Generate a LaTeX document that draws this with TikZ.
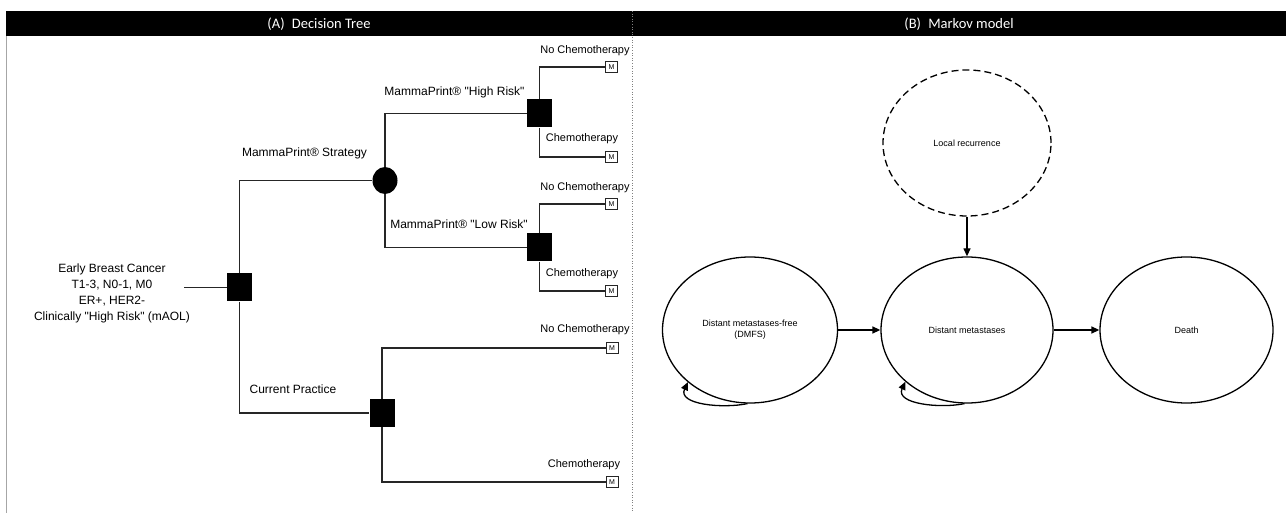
\documentclass[tikz,border=0pt]{standalone}
\usepackage{fontspec}
\setmainfont{Liberation Sans}[Ligatures=TeXOff]
\newfontfamily\hdrfont{Carlito}
\usetikzlibrary{arrows.meta,shapes.geometric}
\begin{document}
\begin{tikzpicture}[x=1pt,y=-1pt,
  treeline/.style={line width=1.1pt, black!85},
  chance/.style={ellipse, fill=black, minimum width=25pt, minimum height=27pt, inner sep=0pt},
  decision/.style={rectangle, fill=black, minimum width=25pt, minimum height=28pt, inner sep=0pt},
  mbox/.style={rectangle, draw=black!85, line width=0.8pt, fill=white, minimum width=12pt, minimum height=11pt, inner sep=0pt, font=\fontsize{7}{7}\selectfont},
  lbl/.style={font=\fontsize{12}{14}\selectfont, inner sep=0pt},
  endlbl/.style={font=\fontsize{11}{13}\selectfont, inner sep=0pt},
  mstate/.style={ellipse, draw, line width=1.3pt, minimum height=146pt, inner sep=0pt, font=\fontsize{9}{11}\selectfont, align=center},
  trans/.style={line width=1.3pt, -{Triangle[length=8pt,width=7pt]}},
  hdr/.style={text=white, font=\hdrfont\fontsize{14.5}{16}\selectfont, inner sep=0pt},
]
\useasboundingbox (0,0) rectangle (1286,513);
% header
\fill[black] (6,11) rectangle (1286,36);
\node[hdr] (hA) at (319,24) {(A)\hspace{0.5em}Decision Tree};
\node[hdr] (hB) at (959,24) {(B)\hspace{0.5em}Markov model};
\draw[gray!70, line width=0.6pt] (6.5,36) -- (6.5,513);
\draw[gray, dotted, line width=0.6pt] (632,11) -- (632,513);

% decision tree
\node[lbl, align=center, font=\fontsize{12}{16}\selectfont] (root) at (112,293)
  {Early Breast Cancer\\T1-3, N0-1, M0\\ER+, HER2-\\Clinically "High Risk" (mAOL)};
\coordinate (rootend) at (184,287.5);
\node[decision] (s0) at (239.5,287.5) {};
\node[chance] (c1) at (385,180.5) {};
\node[decision] (s1) at (539.5,113.5) {};
\node[decision] (s2) at (539.5,247.5) {};
\node[decision] (s3) at (382,413) {};

\node[mbox] (m1) at (611.5,67) {M};
\node[mbox] (m2) at (611.5,157) {M};
\node[mbox] (m3) at (611.5,204) {M};
\node[mbox] (m4) at (611.5,291) {M};
\node[mbox] (m5) at (612,348) {M};
\node[mbox] (m6) at (612,482) {M};

\draw[treeline] (rootend) -- (s0);
\draw[treeline] (s0) |- (c1);
\draw[treeline] (s0) |- (s3);
\draw[treeline] (c1) |- (s1);
\draw[treeline] (c1) |- (s2);
\draw[treeline] (s1) |- (m1);
\draw[treeline] (s1) |- (m2);
\draw[treeline] (s2) |- (m3);
\draw[treeline] (s2) |- (m4);
\draw[treeline] (s3) |- (m5);
\draw[treeline] (s3) |- (m6);

\node[lbl] (lstrat) at (304.5,153) {MammaPrint® Strategy};
\node[lbl] (lhigh) at (454.5,92) {MammaPrint® "High Risk"};
\node[lbl] (llow) at (459,224) {MammaPrint® "Low Risk"};
\node[lbl] (lcur) at (293,389) {Current Practice};

\node[endlbl] (e1) at (585,51) {No Chemotherapy};
\node[endlbl] (e2) at (582,139) {Chemotherapy};
\node[endlbl] (e3) at (585,188) {No Chemotherapy};
\node[endlbl] (e4) at (582,274) {Chemotherapy};
\node[endlbl] (e5) at (585,330) {No Chemotherapy};
\node[endlbl] (e6) at (584,465) {Chemotherapy};

% Markov model
\node[mstate, dash pattern=on 7pt off 4pt, minimum width=168pt] (lr) at (967,143) {Local recurrence};
\node[mstate, minimum width=175pt] (dmfs) at (750,330) {Distant metastases-free\\(DMFS)};
\node[mstate, minimum width=172pt] (dm) at (967,330) {Distant metastases};
\node[mstate, minimum width=173pt] (death) at (1186.5,330) {Death};

\draw[trans] (lr) -- (dm);
\draw[trans] (dmfs) -- (dm);
\draw[trans] (dm) -- (death);
\draw[trans] (dmfs.268) to[out=192,in=245] (dmfs.220);
\draw[trans] (dm.268) to[out=192,in=245] (dm.220);
\end{tikzpicture}
\end{document}
